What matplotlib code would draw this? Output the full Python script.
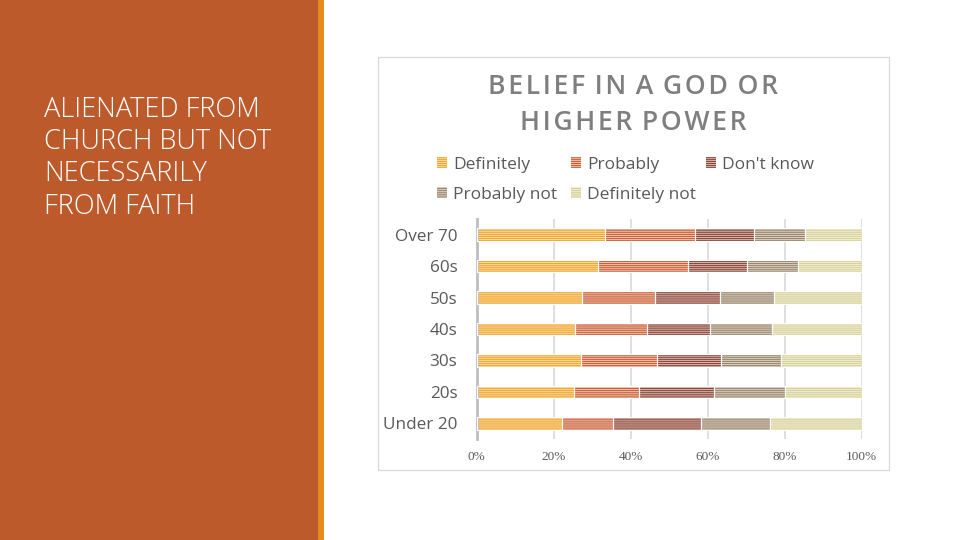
import matplotlib
matplotlib.use("Agg")
import matplotlib.pyplot as plt
from matplotlib.patches import Rectangle, Patch
import numpy as np

plt.rcParams['font.family'] = ['Open Sans', 'DejaVu Sans']
plt.rcParams['hatch.linewidth'] = 0.8

categories = ["Under 20", "20s", "30s", "40s", "50s", "60s", "Over 70"]
series_names = ["Definitely", "Probably", "Don't know", "Probably not", "Definitely not"]
definitely   = [22.2, 25.4, 27.2, 25.6, 27.4, 31.6, 33.4]
probably     = [13.3, 16.8, 19.7, 18.7, 19.0, 23.4, 23.4]
dont_know    = [22.8, 19.4, 16.6, 16.3, 16.9, 15.2, 15.3]
probably_not = [18.0, 18.6, 15.6, 16.0, 14.0, 13.2, 13.2]
definitely_not = [23.7, 19.8, 20.9, 23.4, 22.7, 16.6, 14.7]
xtick_labels = ["0%", "20%", "40%", "60%", "80%", "100%"]
title = "BELIEF IN A GOD OR\nHIGHER POWER"

stripe_colors = ["#EFA531", "#C8603E", "#8A4A3E", "#998870", "#D6D19C"]
bg_colors     = ["#FBDDA2", "#F2C4AC", "#D9B6AC", "#DCD0C2", "#F2EED2"]

fig = plt.figure(figsize=(9.6, 5.4), dpi=100)
W, H = 960, 540

# left panel
fig.patches.append(Rectangle((0, 0), 318 / W, 1, transform=fig.transFigure,
                             facecolor="#BC5A2C", edgecolor="none", zorder=-2))
fig.patches.append(Rectangle((318 / W, 0), 6 / W, 1, transform=fig.transFigure,
                             facecolor="#E8891B", edgecolor="none", zorder=-2))
fig.text(44 / W, 1 - 96 / H, "ALIENATED FROM\nCHURCH BUT NOT\nNECESSARILY\nFROM FAITH",
         color="white", fontsize=19.5, fontweight="light", va="top", ha="left",
         linespacing=1.2)

# chart frame
fig.patches.append(Rectangle((378 / W, 1 - 470 / H), (889 - 378) / W, (470 - 57) / H,
                             transform=fig.transFigure, facecolor="white",
                             edgecolor="#D9D9D9", linewidth=0.9, zorder=-1))

spaced_title = "\n".join("\u200a ".join("\u200a".join(word) for word in line.split(" "))
                         for line in title.split("\n"))
fig.text(633 / W, 1 - 105 / H, spaced_title, color="#7F7F7F",
         fontsize=19.2, fontweight="semibold", ha="center", va="center", linespacing=1.42)

ax = fig.add_axes([476.7 / W, 1 - 439 / H, 385 / W, 220 / H])
ax.set_zorder(2)
ax.set_facecolor("none")

data = [definitely, probably, dont_know, probably_not, definitely_not]
y = np.arange(len(categories))
left = np.zeros(len(categories))
handles = []
for vals, sc, bc, name in zip(data, stripe_colors, bg_colors, series_names):
    vals = np.array(vals)
    ax.barh(y, vals, left=left, height=0.4, facecolor=bc, edgecolor=sc,
            hatch="-" * 8, linewidth=0, zorder=2)
    ax.barh(y, vals, left=left, height=0.4, facecolor="none", edgecolor="white",
            linewidth=0.8, zorder=3)
    left = left + vals
    handles.append(Patch(facecolor=bc, edgecolor=sc, hatch="-" * 8, linewidth=0, label=name))

ax.set_xlim(0, 100)
ax.set_ylim(-0.5, len(categories) - 0.5)
ax.set_xticks(np.linspace(0, 100, 6))
ax.set_xticklabels(xtick_labels, fontfamily="Liberation Serif", fontsize=9.5, color="#595959")
ax.set_yticks(y)
ax.set_yticklabels(categories, fontsize=12.3, color="#595959")
ax.tick_params(axis="y", length=0, pad=14)
ax.tick_params(axis="x", length=0, pad=9)
ax.grid(axis="x", color="#D9D9D9", linewidth=1.2, zorder=1)
for s in ["top", "right", "bottom"]:
    ax.spines[s].set_visible(False)
ax.spines["left"].set_color("#BFBFBF")
ax.spines["left"].set_linewidth(2)
ax.set_axisbelow(True)

# legend entries placed on an Excel-like grid
legend_pos = [(437, 165), (571, 165), (706, 165), (437, 195), (571, 195)]
for h, name, (px, py) in zip(handles, series_names, legend_pos):
    fig.legend([h], [name], loc="center left", bbox_to_anchor=(px / W, 1 - py / H),
               frameon=False, fontsize=12.5, labelcolor="#595959",
               handlelength=0.55, handleheight=0.6, handletextpad=0.4,
               borderaxespad=0, borderpad=0)

fig.savefig("out.png", dpi=100)
